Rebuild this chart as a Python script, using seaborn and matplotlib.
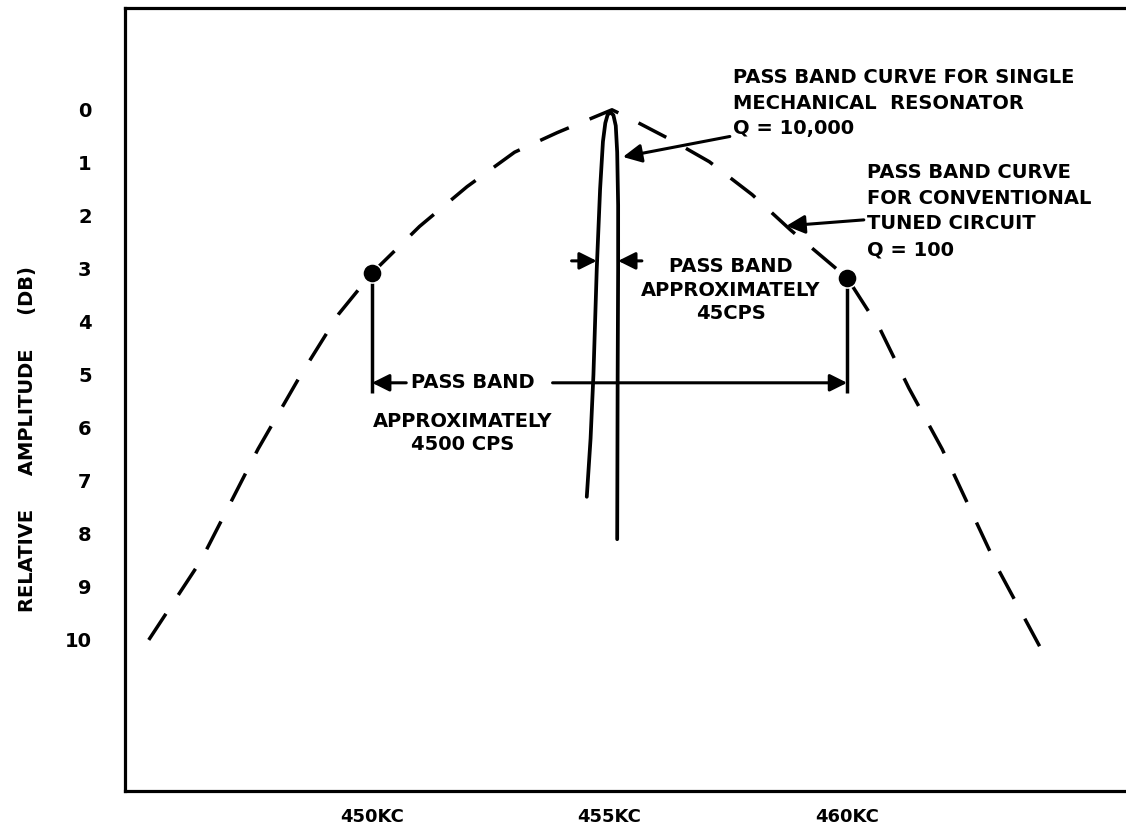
import matplotlib
matplotlib.use('Agg')
import matplotlib.pyplot as plt
import seaborn as sns

# Conventional tuned circuit, Q = 100 (kc, dB down)
tuned_kc = [445.3, 446.4, 447.6, 448.5, 449.3, 450.0, 451.0, 452.0, 453.0, 453.9, 454.7, 455.05,
            455.4, 456.3, 457.1, 458.0, 458.8, 460.0, 460.7, 461.3, 462.0, 462.6, 463.2, 464.1]
tuned_db = [10.0, 8.5, 6.4, 5.0, 3.85, 3.08, 2.2, 1.45, 0.8, 0.43, 0.13, 0.0,
            0.15, 0.57, 0.98, 1.6, 2.26, 3.17, 4.15, 5.25, 6.4, 7.55, 8.7, 10.2]

# Single mechanical resonator, Q = 10,000
reso_kc = [454.52, 454.6, 454.66, 454.73, 454.8, 454.86, 454.91, 454.96, 455.02,
           455.08, 455.13, 455.16, 455.18, 455.18, 455.17, 455.16]
reso_db = [7.3, 6.2, 5.0, 3.0, 1.5, 0.6, 0.25, 0.09, 0.05,
           0.1, 0.3, 0.8, 1.8, 3.0, 5.0, 8.1]

# 3 dB points of the tuned circuit
band_kc = [450.0, 460.0]
band_db = [3.08, 3.17]

x_ticks = [450, 455, 460]
x_tick_labels = ['450KC', '455KC', '460KC']
y_ticks = list(range(0, 11))

sns.set_theme(style='white')
plt.rcParams['font.family'] = ['DejaVu Sans']
plt.rcParams['font.weight'] = 'bold'
for key in ['text.color', 'axes.labelcolor', 'xtick.color', 'ytick.color']:
    plt.rcParams[key] = 'black'

fig = plt.figure(figsize=(11.26, 8.33), dpi=100)
ax = fig.add_axes([125 / 1126, 42 / 833, 1001 / 1126, 783 / 833])

# curves (estimator=None keeps every point as drawn, no aggregation)
sns.lineplot(x=tuned_kc, y=tuned_db, ax=ax, color='black', linewidth=2.5,
             sort=False, estimator=None, linestyle=(0, (9, 6.5)))
sns.lineplot(x=reso_kc, y=reso_db, ax=ax, color='black', linewidth=2.7,
             sort=False, estimator=None)
sns.scatterplot(x=band_kc, y=band_db, ax=ax, color='black', s=190, zorder=5)

# pass band markers of the tuned circuit
arrow_db = 5.15
ax.vlines(band_kc, band_db, arrow_db + 0.2, color='black', linewidth=2.5)
head = dict(arrowstyle='-|>', color='black', lw=2.2, mutation_scale=26, shrinkA=0, shrinkB=0)
ax.annotate('', xy=(band_kc[0], arrow_db), xytext=(450.72, arrow_db), arrowprops=head)
ax.annotate('', xy=(band_kc[1], arrow_db), xytext=(453.8, arrow_db), arrowprops=head)
ax.text(452.13, arrow_db, 'PASS BAND', ha='center', va='center', fontsize=14, fontweight='bold')
ax.text(451.9, 6.1, 'APPROXIMATELY\n4500 CPS', ha='center', va='center', fontsize=14,
        fontweight='bold', linespacing=1.3)

# pass band markers of the resonator
ax.annotate('', xy=(reso_kc[3], 2.85), xytext=(454.2, 2.85), arrowprops=head)
ax.annotate('', xy=(reso_kc[13], 2.85), xytext=(455.68, 2.85), arrowprops=head)
ax.text(457.55, 3.4, 'PASS BAND\nAPPROXIMATELY\n45CPS', ha='center', va='center',
        fontsize=14, fontweight='bold', linespacing=1.3)

# curve call-outs
call = dict(arrowstyle='-|>', color='black', lw=2.2, mutation_scale=28, shrinkA=0, shrinkB=0)
ax.annotate('PASS BAND CURVE FOR SINGLE\nMECHANICAL  RESONATOR\nQ = 10,000',
            xy=(455.28, 0.89), xytext=(457.6, -0.79), arrowprops=call,
            ha='left', va='top', fontsize=14, fontweight='bold', linespacing=1.45)
ax.annotate('PASS BAND CURVE\nFOR CONVENTIONAL\nTUNED CIRCUIT\nQ = 100',
            xy=(458.72, 2.19), xytext=(460.42, 1.0), arrowprops=call,
            ha='left', va='top', fontsize=14, fontweight='bold', linespacing=1.45)

# axes
ax.set_xlim(444.8, 465.87)
ax.set_ylim(12.85, -1.92)
ax.set_xticks(x_ticks)
ax.set_xticklabels(x_tick_labels, fontsize=13, fontweight='bold')
ax.set_yticks(y_ticks)
ax.set_yticklabels([str(v) for v in y_ticks], fontsize=14, fontweight='bold')
ax.tick_params(axis='both', length=0)
ax.tick_params(axis='y', pad=24)
ax.tick_params(axis='x', pad=12)
ax.set_ylabel('RELATIVE     AMPLITUDE     (DB)', fontsize=14, fontweight='bold')
ax.yaxis.set_label_coords(-0.088, 0.45)
ax.set_xlabel('')

for side in ['left', 'top', 'bottom']:
    ax.spines[side].set_color('black')
    ax.spines[side].set_linewidth(2.3)
ax.spines['right'].set_visible(False)

fig.savefig('out.png', dpi=100)
